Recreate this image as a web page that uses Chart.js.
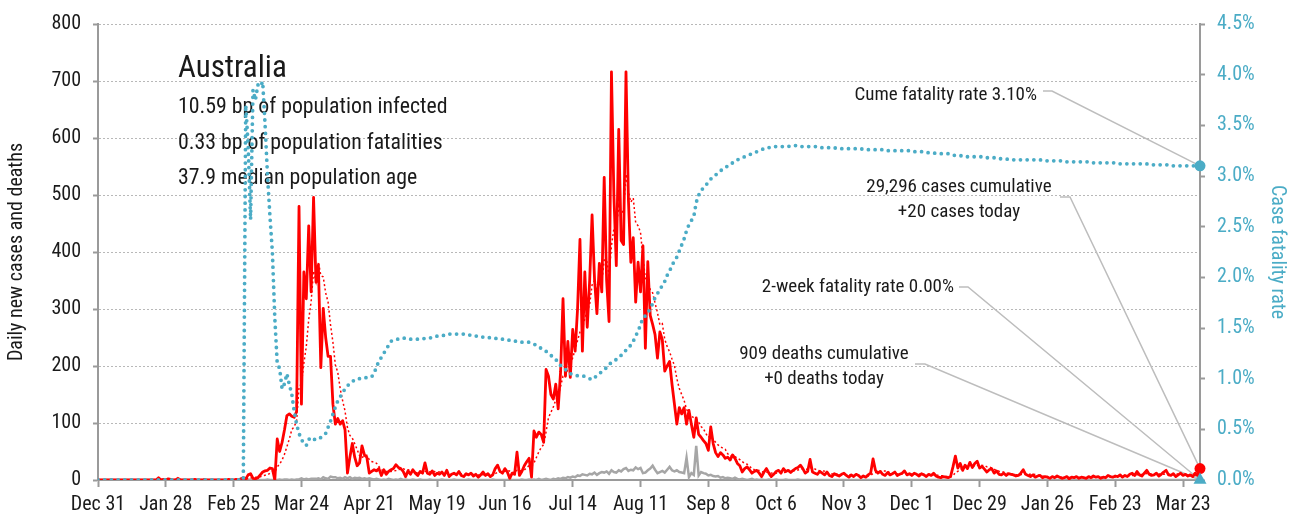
<!DOCTYPE html>
<html>
<head>
<meta charset="utf-8">
<script src="https://cdn.jsdelivr.net/npm/chart.js@4.4.1/dist/chart.umd.min.js"></script>
<style>
  html, body { margin: 0; padding: 0; background: #ffffff; }
  #wrap { width: 1294px; height: 518px; position: relative; }
</style>
</head>
<body>
<div id="wrap"><canvas id="c" width="1294" height="518"></canvas></div>
<script>
const tickLabels = ['Dec 31','Jan 28','Feb 25','Mar 24','Apr 21','May 19','Jun 16','Jul 14','Aug 11','Sep 8','Oct 6','Nov 3','Dec 1','Dec 29','Jan 26','Feb 23','Mar 23'];
const cases = [
0,0,0,0,0,0,0,0,0,0,0,0,0,0,
0,0,0,0,0,0,0,0,0,0,0,4,0,1,
0,2,1,0,0,3,0,0,0,0,0,0,1,0,
0,0,1,0,0,0,0,0,0,0,0,0,1,0,
0,1,0,2,4,2,9,11,3,2,4,9,14,16,
17,21,20,0,72,50,66,88,113,116,112,110,120,480,
133,365,318,446,330,496,347,377,197,301,250,217,217,133,
98,108,98,104,88,12,40,64,40,25,30,60,44,40,
12,15,18,16,20,8,18,10,15,18,20,27,22,20,
15,6,16,10,18,12,8,15,12,30,12,10,16,8,
12,10,14,8,17,6,10,12,9,15,8,6,11,9,
12,7,10,5,9,14,8,11,6,9,20,26,15,12,
20,14,3,12,10,49,8,15,25,32,38,5,86,75,
84,80,66,194,182,150,142,168,125,190,318,182,243,180,
264,226,300,422,226,365,268,350,465,353,292,380,330,531,
350,278,716,500,376,615,420,413,716,492,382,425,312,382,
330,411,231,383,289,273,255,214,260,246,191,200,208,168,
133,98,127,116,127,98,122,98,75,109,80,75,69,64,
52,93,64,48,41,48,44,38,40,35,44,38,29,25,
14,20,23,18,12,15,17,12,6,14,20,12,6,10,
15,17,12,20,15,17,13,17,20,22,26,20,12,15,
36,14,12,10,15,12,9,14,8,6,11,9,7,10,
12,8,5,9,6,10,8,4,7,5,9,12,37,17,
12,15,10,8,13,9,11,14,8,10,12,16,9,11,
8,12,10,7,11,9,6,10,8,12,7,5,4,6,
5,4,6,23,42,21,29,17,26,20,31,22,29,33,
21,24,19,14,18,20,12,16,10,9,12,8,11,10,
9,7,8,12,18,10,8,6,9,5,7,8,4,6,
5,3,6,4,7,5,3,4,6,2,5,4,6,3,
5,4,3,6,4,7,5,6,3,5,4,8,6,5,
7,6,9,5,8,6,10,12,8,15,9,7,12,17,
10,8,9,12,7,10,14,17,9,8,11,6,9,12,
8,10,7,9,6,12,8,20
];
const casesAvg = [
0,0,0,0,0,0,0,0,0,0,0,0,0,0,
0,0,0,0,0,0,0,0,0,0,0,0.6,0.6,0.7,
0.7,1,1.1,1.1,0.6,1,0.9,0.9,0.6,0.4,0.4,0.4,0.1,0.1,
0.1,0.1,0.3,0.3,0.3,0.1,0.1,0.1,0.1,0,0,0,0.1,0.1,
0.1,0.3,0.3,0.6,1.1,1.3,2.6,4.1,4.4,4.7,5,5.7,7.4,8.4,
9.3,11.9,14.4,13.9,22.9,28,35.1,45.3,58.4,72.1,88.1,93.6,103.6,162.7,
169.1,205.1,234,281.7,313.1,366.9,347.9,382.7,358.7,356.3,328.3,312.1,272.3,241.7,
201.9,189.1,160.1,139.3,120.9,91.6,78.3,73.4,63.7,53.3,42.7,38.7,43.3,43.3,
35.9,32.3,31.3,29.3,23.6,18.4,15.3,15,15,15,15.6,16.6,18.6,18.9,
19.6,18.3,18,16.6,15.3,13.9,12.1,12.1,13,15,15.3,14.1,14.7,14.7,
14.3,14,11.7,11.1,12.1,10.7,11,11,10.9,11,11,9.4,10.1,10,
10,9.7,9,8.6,9,9.4,9.3,9.1,9,8.9,11,13.4,13.6,14.1,
15.4,16.6,15.7,14.6,12.3,17.1,16.6,15.9,17.4,21.6,25.3,24.6,29.9,39.4,
49.3,57.1,62,84.3,109.6,118.7,128.3,140.3,146.7,164.4,182.1,182.1,195.4,200.9,
214.6,229,244.7,259.6,265.9,283.3,295.9,308.1,342.3,349.9,331.3,353.3,348.3,385.9,
385.9,359.1,411,440.7,440.1,480.9,465,474,536.6,504.6,487.7,494.7,451.4,446,
434.1,390.6,353.3,353.4,334,328.4,310.3,293.7,272.1,274.3,246.9,234.1,224.9,212.4,
200.9,177.7,160.7,150,139.6,123.9,117.3,112.3,109,106.4,101.3,93.9,89.7,81.4,
74.9,77.4,71,66.4,61.6,58.6,55.7,53.7,46.1,42,41.4,41,38.3,35.6,
32.1,29.3,27.6,23.9,20.1,18.1,17,16.7,14.7,13.4,13.7,13.7,12.4,11.4,
11.9,13.4,13.1,13.1,13.6,15.1,15.6,15.9,16.3,17.7,18.6,19.3,18.6,18.9,
21.6,20.7,19.3,17,16.3,16.3,15.4,12.3,11.4,10.6,10.7,9.9,9.1,9.3,
9,9,8.9,8.6,8.1,8.6,8.3,7.1,7,7,7,7.9,11.7,13,
14.1,15.3,16,15.9,16,12,11.1,11.4,10.4,10.4,11,11.4,11.4,11.4,
10.6,11.1,11.1,10.4,9.7,9.7,9,9.3,8.7,9,9,8.1,7.4,7.4,
6.7,6.1,5.3,7.6,12.9,15.3,18.6,20.3,23.4,25.4,26.6,23.7,24.9,25.4,
26,25.7,25.6,23.1,22.6,21.3,18.3,17.6,15.6,14.1,13.9,12.4,11.1,10.9,
9.9,9.4,9.3,9.3,10.7,10.6,10.3,9.9,10.1,9.7,9,7.6,6.7,6.4,
6.3,5.4,5.6,5.1,5,5.1,4.7,4.6,5,4.4,4.6,4.1,4.3,4.3,
4.4,4.1,4.3,4.4,4.4,4.6,4.9,5,4.9,5.1,4.9,5.4,5.3,5.3,
5.4,5.9,6.4,6.6,6.6,6.6,7.3,8,8.3,9.1,9.7,9.6,10.4,11.4,
11.1,11.1,10.3,10.7,10.7,10.4,10,11,11.1,11,10.9,10.7,10.6,10.3,
9,9.1,9,8.7,8.7,9.1,8.6,10.3
];
const deaths = [
0,0,0,0,0,0,0,0,0,0,0,0,0,0,
0,0,0,0,0,0,0,0,0,0,0,0,0,0,
0,0,0,0,0,0,0,0,0,0,0,0,0,0,
0,0,0,0,0,0,0,0,0,0,0,0,0,0,
0,0,0,0,0,1,0,1,0,1,0,0,0,0,
1,0,0,0,0,1,0,1,1,0,1,0,1,1,
3,1,2,1,2,2,2,3,1,5,3,2,6,5,
5,3,4,2,5,3,5,2,4,3,4,2,3,2,
3,2,1,2,1,0,1,0,2,1,0,1,0,2,
0,1,0,0,1,0,0,1,0,0,0,1,0,0,
0,0,1,0,0,0,0,1,0,0,0,0,0,1,
0,0,0,0,0,0,0,0,0,1,0,0,0,0,
0,0,1,0,0,0,0,1,0,0,1,0,1,0,
2,0,1,2,1,0,2,1,3,2,4,3,5,4,
6,5,8,7,10,9,8,11,10,13,9,12,14,13,
15,11,17,14,13,17,15,19,21,16,18,17,22,19,
21,12,13,17,20,25,18,12,14,16,13,18,23,17,
15,17,14,13,12,39,5,12,9,60,8,14,12,11,
8,9,7,6,7,4,5,3,4,3,2,4,2,1,
2,1,0,1,2,0,1,0,1,0,0,1,0,0,
1,0,0,0,1,0,0,0,0,1,0,0,0,0,
0,0,0,0,0,0,0,0,0,0,0,0,0,0,
0,0,0,0,0,0,0,0,0,0,0,0,0,0,
0,0,0,0,0,0,0,0,0,0,0,0,0,0,
0,0,0,0,0,0,0,0,0,0,0,0,0,0,
0,0,0,0,0,0,0,0,0,0,0,0,0,0,
0,0,0,0,0,0,0,0,0,0,0,0,0,0,
0,0,0,0,0,0,0,0,0,0,0,0,0,0,
0,0,0,0,0,0,0,0,0,0,0,0,0,0,
0,0,0,0,0,0,0,0,0,0,0,0,0,0,
0,0,0,0,0,0,0,0,0,0,0,0,0,0,
0,0,0,0,0,0,0,0,0,0,0,0,0,0,
0,0,0,0,0,0,0,0
];
const cfr = [
0,0,0,0,0,0,0,0,0,0,0,0,0,0,
0,0,0,0,0,0,0,0,0,0,0,0,0,0,
0,0,0,0,0,0,0,0,0,0,0,0,0,0,
0,0,0,0,0,0,0,0,0,0,0,0,0,0,
0,0,0,0,0,3.70,3.30,2.57,3.85,3.75,3.90,3.88,3.93,3.50,
3.00,2.60,2.25,1.60,1.15,1.10,0.90,0.95,1.05,0.94,0.85,0.68,0.55,0.46,
0.40,0.36,0.34,0.40,0.42,0.40,0.40,0.40,0.42,0.44,0.46,0.52,0.58,0.65,
0.72,0.78,0.82,0.86,0.90,0.93,0.95,0.97,0.99,1.00,1.00,1.01,1.01,1.01,
1.02,1.02,1.05,1.12,1.17,1.21,1.25,1.29,1.33,1.37,1.38,1.39,1.39,1.40,
1.40,1.40,1.40,1.39,1.39,1.39,1.39,1.39,1.39,1.40,1.40,1.40,1.41,1.41,
1.42,1.42,1.42,1.43,1.43,1.44,1.44,1.44,1.44,1.44,1.44,1.44,1.43,1.43,
1.43,1.42,1.42,1.42,1.41,1.41,1.41,1.41,1.40,1.40,1.40,1.39,1.39,1.39,
1.38,1.38,1.38,1.37,1.37,1.37,1.37,1.36,1.36,1.36,1.36,1.35,1.34,1.33,
1.31,1.30,1.28,1.27,1.25,1.23,1.21,1.19,1.16,1.13,1.11,1.09,1.07,1.05,
1.04,1.03,1.03,1.03,1.03,1.02,1.01,1.00,0.99,1.01,1.03,1.05,1.07,1.09,
1.11,1.14,1.16,1.17,1.19,1.21,1.23,1.26,1.28,1.31,1.33,1.37,1.42,1.47,
1.53,1.60,1.62,1.65,1.69,1.74,1.80,1.84,1.88,1.92,1.96,2.02,2.06,2.12,
2.16,2.20,2.26,2.32,2.38,2.46,2.52,2.56,2.60,2.74,2.81,2.86,2.88,2.91,
2.94,2.97,2.99,3.01,3.03,3.05,3.07,3.08,3.10,3.11,3.13,3.15,3.16,3.17,
3.18,3.19,3.20,3.21,3.22,3.23,3.24,3.25,3.26,3.27,3.28,3.28,3.29,3.29,
3.29,3.29,3.29,3.29,3.29,3.29,3.30,3.30,3.30,3.30,3.29,3.29,3.29,3.29,
3.29,3.29,3.29,3.29,3.28,3.28,3.28,3.28,3.28,3.28,3.28,3.27,3.27,3.27,
3.27,3.27,3.27,3.27,3.27,3.27,3.27,3.27,3.26,3.26,3.26,3.26,3.26,3.26,
3.26,3.26,3.26,3.25,3.25,3.25,3.25,3.25,3.25,3.25,3.25,3.25,3.25,3.25,
3.25,3.24,3.24,3.24,3.24,3.23,3.23,3.23,3.23,3.23,3.22,3.22,3.22,3.22,
3.22,3.22,3.21,3.21,3.20,3.20,3.20,3.20,3.19,3.19,3.19,3.19,3.19,3.19,
3.19,3.19,3.18,3.18,3.18,3.18,3.18,3.17,3.17,3.17,3.17,3.17,3.16,3.16,
3.16,3.16,3.16,3.16,3.16,3.16,3.16,3.16,3.16,3.16,3.16,3.16,3.15,3.15,
3.15,3.15,3.15,3.15,3.15,3.15,3.15,3.15,3.14,3.14,3.14,3.14,3.14,3.14,
3.14,3.14,3.14,3.14,3.13,3.13,3.13,3.13,3.13,3.13,3.13,3.13,3.13,3.13,
3.13,3.13,3.12,3.12,3.12,3.12,3.12,3.12,3.12,3.12,3.12,3.12,3.12,3.12,
3.11,3.11,3.11,3.11,3.11,3.11,3.11,3.11,3.11,3.10,3.10,3.10,3.10,3.10,
3.10,3.10,3.10,3.10,3.10,3.10,3.10,3.10
];
const twoWeekRate = [0.00];
const countryName = 'Australia';
const infoLines = ['10.59 bp of population infected', '0.33 bp of population fatalities', '37.9 median population age'];
const cumeRateText = ['Cume fatality rate 3.10%'];
const casesText = ['29,296 cases cumulative', '+20 cases today'];
const twoWeekText = ['2-week fatality rate 0.00%'];
const deathsText = ['909 deaths cumulative', '+0 deaths today'];

const FONT = "'Roboto Condensed','DejaVu Sans Condensed',sans-serif";
const RED = '#ff0000', GREY = '#a6a6a6', CYAN = '#4bacc6', AXIS = '#9a9a9a', TEXT = '#1a1a1a';
const last = cases.length - 1;
const tickDays = tickLabels.map((_, i) => i * 28);
const pts = arr => arr.map((v, i) => ({x: i, y: v}));

Chart.defaults.font.family = FONT;
Chart.defaults.color = TEXT;

const annotate = {
  id: 'annotate',
  beforeDatasetsDraw(chart) {
    const {ctx, scales: {x, y, y1}} = chart;
    const X = x.getPixelForValue(last);
    ctx.save();
    ctx.fillStyle = TEXT;
    ctx.textBaseline = 'middle';
    ctx.textAlign = 'left';
    ctx.font = '31px ' + FONT;
    ctx.fillText(countryName, 178, 69);
    ctx.font = '21.8px ' + FONT;
    infoLines.forEach((t, i) => ctx.fillText(t, 178, 108 + i * 35.5));
    ctx.strokeStyle = '#bdbdbd';
    ctx.lineWidth = 1.5;
    const leader = (x0, x1, yy, tx, ty) => {
      ctx.beginPath(); ctx.moveTo(x0, yy); ctx.lineTo(x1, yy); ctx.lineTo(tx, ty); ctx.stroke();
    };
    leader(1043, 1052, 91, X, y1.getPixelForValue(cfr[last]));
    leader(1060, 1070, 197, X, y.getPixelForValue(cases[last]));
    leader(959, 968, 287, X, y1.getPixelForValue(twoWeekRate[0]));
    leader(915, 925, 364, X, y.getPixelForValue(deaths[last]));
    ctx.font = '19px ' + FONT;
    ctx.textAlign = 'right';
    ctx.fillText(cumeRateText[0], 1037, 95);
    ctx.fillText(twoWeekText[0], 954, 287);
    ctx.textAlign = 'center';
    casesText.forEach((t, i) => ctx.fillText(t, 959, 187 + i * 25.5));
    deathsText.forEach((t, i) => ctx.fillText(t, 824, 354 + i * 25.5));
    ctx.restore();
  }
};

new Chart(document.getElementById('c'), {
  type: 'line',
  data: {
    datasets: [
      { label: 'cfr-now', data: [{x: last, y: cfr[last]}], yAxisID: 'y1', showLine: false,
        pointRadius: 5.5, pointBackgroundColor: CYAN, pointBorderWidth: 0, clip: false, order: 0 },
      { label: '2wk-now', data: [{x: last, y: twoWeekRate[0]}], yAxisID: 'y1', showLine: false,
        pointStyle: 'triangle', pointRadius: 7.5, pointBackgroundColor: CYAN, pointBorderWidth: 0, clip: false, order: 0 },
      { label: 'cases-now', data: [{x: last, y: cases[last]}], yAxisID: 'y', showLine: false,
        pointRadius: 5.5, pointBackgroundColor: RED, pointBorderWidth: 0, clip: false, order: 0 },
      { label: 'cfr', data: pts(cfr), yAxisID: 'y1', borderColor: CYAN, borderWidth: 3.8,
        borderDash: [0, 6.7], borderCapStyle: 'round', pointRadius: 0, tension: 0, order: 1 },
      { label: 'cases', data: pts(cases), yAxisID: 'y', borderColor: RED, borderWidth: 2.8,
        pointRadius: 0, tension: 0, borderJoinStyle: 'round', order: 2 },
      { label: 'avg', data: pts(casesAvg), yAxisID: 'y', borderColor: RED, borderWidth: 1.5,
        borderDash: [2, 2.5], pointRadius: 0, tension: 0, order: 3 },
      { label: 'deaths', data: pts(deaths), yAxisID: 'y', borderColor: GREY, borderWidth: 2.5,
        pointRadius: 0, tension: 0, order: 4 }
    ]
  },
  options: {
    responsive: false,
    animation: false,
    events: [],
    layout: { padding: { top: 19, left: 0, right: 0, bottom: 0 } },
    plugins: { legend: { display: false }, tooltip: { enabled: false }, title: { display: false } },
    scales: {
      x: {
        type: 'linear', min: 0, max: last,
        afterBuildTicks: s => { s.ticks = tickDays.map(v => ({value: v})); },
        afterFit: s => { s.height = 38; },
        ticks: { callback: v => tickLabels[tickDays.indexOf(v)], font: {size: 20}, color: TEXT,
                 maxRotation: 0, autoSkip: false, padding: 6 },
        grid: { drawOnChartArea: false, drawTicks: true, tickLength: 7, tickWidth: 2, tickColor: AXIS },
        border: { color: AXIS, width: 2 }
      },
      y: {
        position: 'left', min: 0, max: 800,
        afterFit: s => { s.width = 98; },
        ticks: { stepSize: 100, font: {size: 20}, color: TEXT, padding: 12 },
        grid: { color: '#b8b8b8', lineWidth: 1, tickLength: 5, tickWidth: 2, tickColor: AXIS, tickBorderDash: [] },
        border: { color: AXIS, width: 2, dash: [2, 2] },
        title: { display: true, text: 'Daily new cases and deaths', font: {size: 20}, color: TEXT, padding: {top: 5, bottom: 0} }
      },
      y1: {
        position: 'right', min: 0, max: 4.5,
        afterFit: s => { s.width = 94; },
        ticks: { stepSize: 0.5, callback: v => v.toFixed(1) + '%', font: {size: 20}, color: CYAN, padding: 12 },
        grid: { drawOnChartArea: false, tickLength: 5, tickWidth: 2, tickColor: AXIS },
        border: { color: AXIS, width: 2 },
        title: { display: true, text: 'Case fatality rate', font: {size: 20}, color: CYAN, padding: {top: 5, bottom: 0} }
      }
    }
  },
  plugins: [annotate]
});
</script>
</body>
</html>
